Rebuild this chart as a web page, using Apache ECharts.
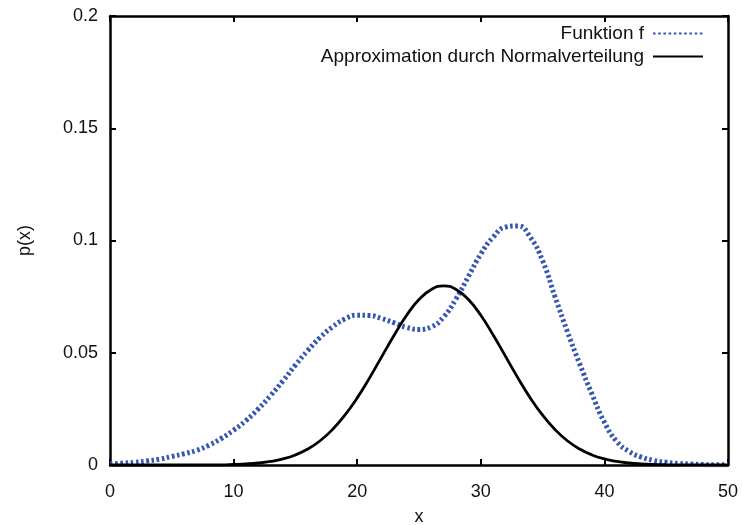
<!DOCTYPE html>
<html>
<head>
<meta charset="utf-8">
<script src="https://cdn.jsdelivr.net/npm/echarts@6/dist/echarts.min.js"></script>
<style>
  html, body { margin: 0; padding: 0; background: #fff; }
  #chart { width: 742px; height: 525px; }
</style>
</head>
<body>
<div id="chart"></div>
<script>
// x-Werte 0..50
var xWerte = [0,1,2,3,4,5,6,7,8,9,10,11,12,13,14,15,16,17,18,19,20,21,22,23,24,25,
  26,27,28,29,30,31,32,33,34,35,36,37,38,39,40,41,42,43,44,45,46,47,48,49,50];
// Funktion f
var funktionF = [0.0005,0.0008,0.0012,0.0018,0.0026,0.0038,0.0050,0.0065,0.0088,0.0118,
  0.0155,0.0198,0.0250,0.0310,0.0375,0.0445,0.0510,0.0568,0.0615,0.0650,0.0667,0.0666,
  0.0652,0.0633,0.0613,0.0604,0.0615,0.0660,0.0740,0.0840,0.0940,0.1015,0.1060,0.1065,
  0.1015,0.0910,0.0750,0.0595,0.0450,0.0315,0.0190,0.0105,0.0060,0.0035,0.0020,0.0012,
  0.0007,0.0004,0.0002,0.0001,0.0001];
// Approximation durch Normalverteilung
var normal = [0,0,0,0,0,0,0,0.00001,0.00002,0.00005,0.00025,0.00048,0.00089,0.00158,
  0.00271,0.00448,0.0071,0.0108,0.0158,0.0222,0.0299,0.0388,0.0484,0.0579,0.0667,0.0737,
  0.0782,0.0798,0.0782,0.0737,0.0667,0.0579,0.0484,0.0388,0.0299,0.0222,0.0158,0.0108,
  0.0071,0.00448,0.00271,0.00158,0.00089,0.00048,0.00025,0.00012,0.00005,0.00002,0.00001,0,0];
var xTicks = [0, 10, 20, 30, 40, 50];
var yTicks = [0, 0.05, 0.1, 0.15, 0.2];

var dom = document.getElementById('chart');
var myChart = echarts.init(dom);

function paare(ys) {
  return xWerte.map(function (x, i) { return [x, ys[i]]; });
}

var schrift = 'Liberation Sans, Arial, sans-serif';
var rahmen = { show: true, onZero: false, lineStyle: { color: '#000', width: 2.5 } };
var striche = { show: true, inside: true, length: 6, lineStyle: { color: '#000', width: 2 } };
var legendeText = { fontSize: 19, color: '#111', padding: [0, 4, 0, 0] };
// nur die Linie in der Legende, kein Punkt
var ohnePunkt = { color: 'rgba(0,0,0,0)', borderColor: 'rgba(0,0,0,0)', borderWidth: 0 };

var option = {
  backgroundColor: '#fff',
  animation: false,
  textStyle: { fontFamily: schrift },
  grid: { left: 110, right: 14, top: 16, bottom: 60, outerBoundsMode: 'none', containLabel: false },
  legend: [
    {
      data: ['Funktion f'], right: 33, top: 19, itemWidth: 50, itemHeight: 14,
      align: 'right', textStyle: legendeText, itemStyle: ohnePunkt
    },
    {
      data: ['Approximation durch Normalverteilung'], right: 33, top: 42, itemWidth: 50, itemHeight: 14,
      align: 'right', textStyle: legendeText, itemStyle: ohnePunkt
    }
  ],
  xAxis: [
    {
      type: 'value', min: 0, max: 50, interval: 10, position: 'bottom',
      name: 'x', nameLocation: 'middle', nameGap: 43,
      nameTextStyle: { fontSize: 18, color: '#111' },
      axisLine: rahmen, axisTick: striche, splitLine: { show: false },
      axisLabel: {
        fontSize: 18, color: '#111', margin: 18,
        formatter: function (v) { return xTicks.indexOf(v) >= 0 ? String(v) : ''; }
      }
    },
    {
      type: 'value', min: 0, max: 50, interval: 10, position: 'top',
      axisLine: rahmen, axisTick: striche, splitLine: { show: false },
      axisLabel: { show: false }
    }
  ],
  yAxis: [
    {
      type: 'value', min: 0, max: 0.2, interval: 0.05, position: 'left',
      name: 'p(x)', nameLocation: 'middle', nameGap: 76, nameRotate: 90,
      nameTextStyle: { fontSize: 18, color: '#111' },
      axisLine: rahmen, axisTick: striche, splitLine: { show: false },
      axisLabel: {
        fontSize: 18, color: '#111', margin: 12,
        formatter: function (v) {
          var t = yTicks.filter(function (w) { return Math.abs(w - v) < 1e-9; });
          return t.length ? String(t[0]) : '';
        }
      }
    },
    {
      type: 'value', min: 0, max: 0.2, interval: 0.05, position: 'right',
      axisLine: rahmen, axisTick: striche, splitLine: { show: false },
      axisLabel: { show: false }
    }
  ],
  series: [
    {
      name: 'Funktion f', type: 'line', smooth: true, symbol: 'none',
      data: paare(funktionF),
      lineStyle: { color: '#3656b4', width: 5, type: [2.6, 2.6] },
      itemStyle: { color: '#3656b4' },
      z: 3
    },
    {
      name: 'Approximation durch Normalverteilung', type: 'line', smooth: true, symbol: 'none',
      data: paare(normal),
      lineStyle: { color: '#000', width: 2.8 },
      itemStyle: { color: '#000' },
      z: 4
    }
  ]
};
myChart.setOption(option);
</script>
</body>
</html>
